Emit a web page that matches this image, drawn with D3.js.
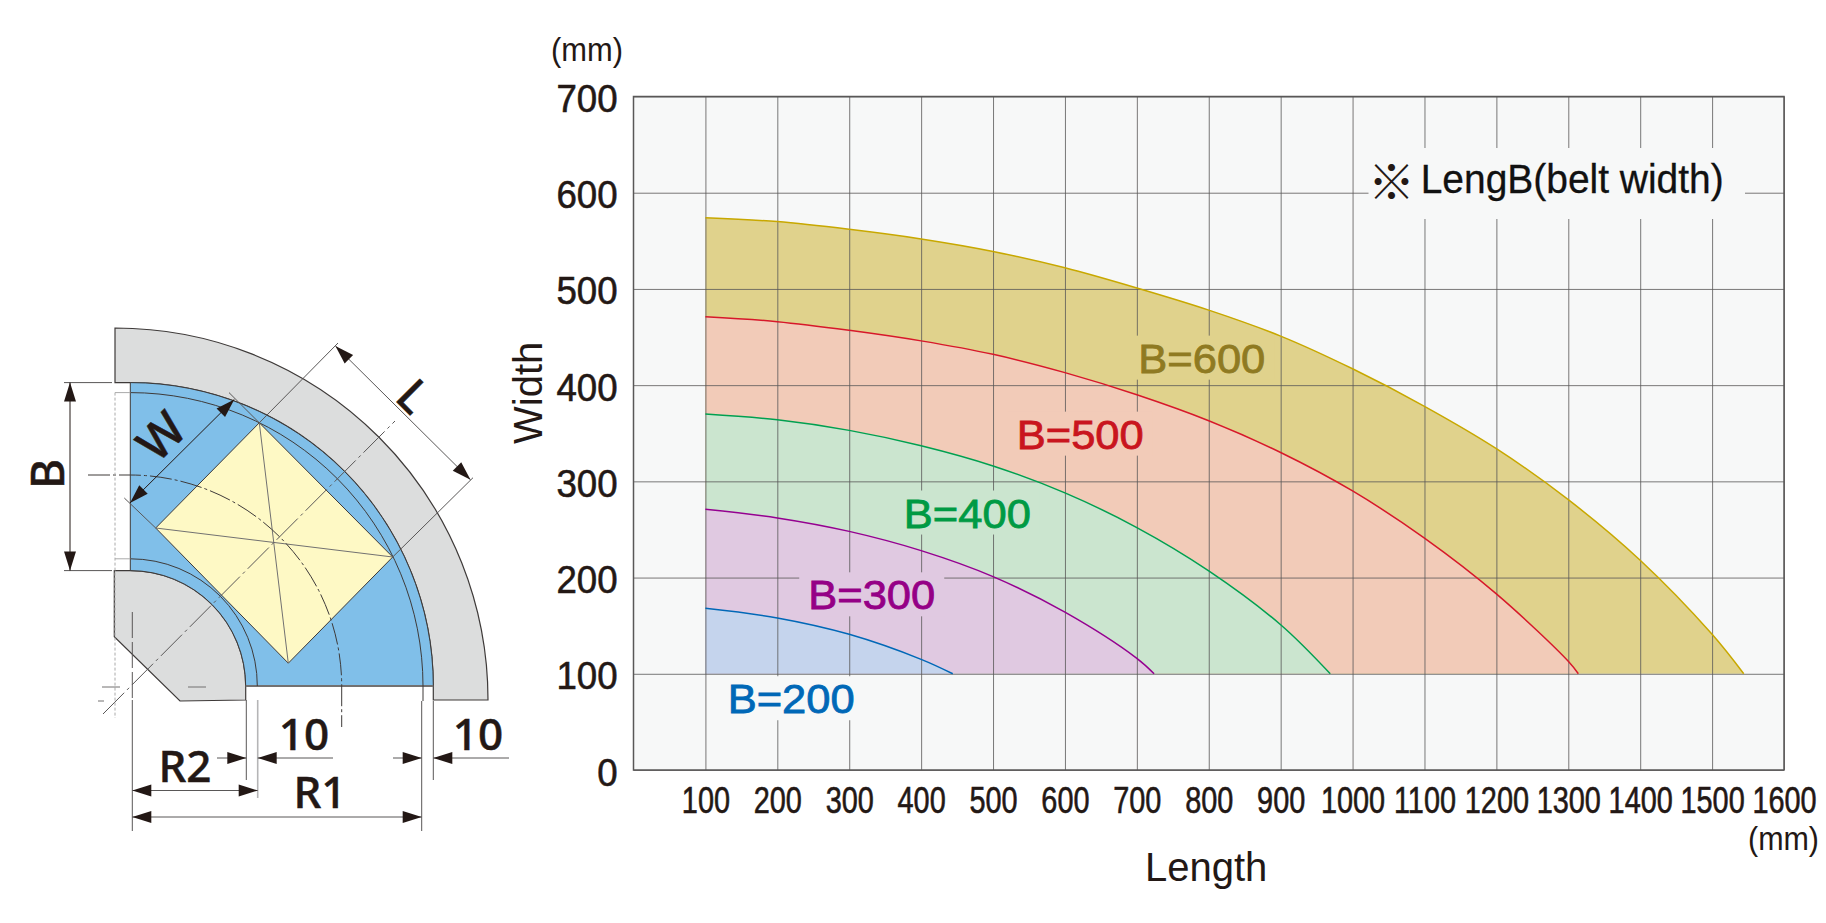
<!DOCTYPE html>
<html>
<head>
<meta charset="utf-8">
<title>Length and width by belt width</title>
<script src="https://cdn.jsdelivr.net/npm/d3@7"></script>
<style>
body{margin:0;background:#fff;}
text{font-family:"Liberation Sans",Arial,sans-serif;fill:#231815;}
.dia text{font-family:"Noto Sans",sans-serif;font-weight:500;}
</style>
</head>
<body>
<div id="chart"></div>
<script>
// chart values
var xTicks = [100,200,300,400,500,600,700,800,900,1000,1100,1200,1300,1400,1500,1600];
var yTicks = [0,100,200,300,400,500,600,700];

var belts = ["B=600","B=500","B=400","B=300","B=200"];
var b600Len = [100,200,300,400,500,600,700,800,900,1000,1100,1200,1300,1400,1500,1544];
var b600Wid = [574,570,562,552,539,522,501,478,451,417,378,334,281,218,141,100];
var b500Len = [100,200,300,400,500,600,700,800,900,1000,1100,1200,1300,1314];
var b500Wid = [471,466,457,446,432,413,390,363,330,290,241,183,113,100];
var b400Len = [100,200,300,400,500,600,700,800,900,969];
var b400Wid = [370,364,353,337,316,288,252,207,151,100];
var b300Len = [100,200,300,400,500,600,700,724];
var b300Wid = [271,262,248,228,201,164,116,100];
var b200Len = [100,200,300,400,444];
var b200Wid = [168,158,141,115,100];
var beltLen = [b600Len,b500Len,b400Len,b300Len,b200Len];
var beltWid = [b600Wid,b500Wid,b400Wid,b300Wid,b200Wid];

var fillColors = ["#e0d28c","#f2cbb8","#cbe5cf","#e0c9e1","#c5d4ed"];
var lineColors = ["#c8a800","#d7182a","#00a050","#950090","#0068b7"];
var textColors = ["#8f7a22","#c9151e","#009a44","#950086","#0068b7"];
var labelLen = [702,533,376,243,131];
var labelWid = [413,334,252,167,59];

var svg = d3.select("#chart").append("svg")
.attr("width", 1826)
.attr("height", 923)
.style("display", "block");

var left = 633.5, right = 1784, top_ = 96.5, bottom = 770;
var x = d3.scaleLinear().domain([0,1600]).range([left,right]);
var y = d3.scaleLinear().domain([0,700]).range([bottom,top_]);
var curve = d3.curveCatmullRom.alpha(0.5);

// plot background
svg.append("rect").attr("x",left).attr("y",top_).attr("width",right-left).attr("height",bottom-top_).attr("fill","#f7f8f8");

// filled bands, biggest first
belts.forEach(function(b,i){
var pts = d3.zip(beltLen[i],beltWid[i]);
var area = d3.area().x(function(d){return x(d[0]);}).y0(y(100)).y1(function(d){return y(d[1]);}).curve(curve);
svg.append("path").attr("d",area(pts)).attr("fill",fillColors[i]);
});

// grid on top of the fills
var gx = svg.append("g").attr("transform","translate(0,"+bottom+")")
.call(d3.axisBottom(x).tickValues(xTicks).tickSize(top_-bottom).tickFormat(""));
var gy = svg.append("g").attr("transform","translate("+left+",0)")
.call(d3.axisLeft(y).tickValues(yTicks).tickSize(left-right).tickFormat(""));
gx.select(".domain").remove();
gy.select(".domain").remove();
svg.selectAll("g.tick line").attr("stroke","#595757").attr("stroke-opacity",0.8).attr("stroke-width",1);

// curves
belts.forEach(function(b,i){
var pts = d3.zip(beltLen[i],beltWid[i]);
var line = d3.line().x(function(d){return x(d[0]);}).y(function(d){return y(d[1]);}).curve(curve);
svg.append("path").attr("d",line(pts)).attr("fill","none").attr("stroke",lineColors[i]).attr("stroke-width",1.5);
});

// frame
svg.append("rect").attr("x",left).attr("y",top_).attr("width",right-left).attr("height",bottom-top_)
.attr("fill","none").attr("stroke","#595757").attr("stroke-width",1.5);

// belt labels, they cut the grid behind them
var labelBack = ["#e0d28c","#f2cbb8","#cbe5cf","#e0c9e1","#f7f8f8"];
belts.forEach(function(b,i){
svg.append("rect").attr("x",x(labelLen[i])-9).attr("y",y(labelWid[i])-37)
.attr("width",145).attr("height",44).attr("fill",labelBack[i]);
svg.append("text").attr("x",x(labelLen[i])).attr("y",y(labelWid[i]))
.attr("font-size",41).attr("textLength",127).attr("lengthAdjust","spacingAndGlyphs")
.attr("stroke",textColors[i]).attr("stroke-width",0.8)
.style("fill",textColors[i]).text(b);
});

// axis text, squeezed like the narrow digits of the picture
var gxl = svg.append("g").attr("transform","translate(0,"+bottom+")")
.call(d3.axisBottom(x).tickValues(xTicks).tickSize(0).tickFormat(d3.format("d")));
gxl.select(".domain").remove();
gxl.selectAll("text").attr("y",43).attr("dy",0).attr("font-size",37).attr("font-family",null)
.attr("stroke","#231815").attr("stroke-width",0.6)
.attr("transform","scale(0.78,1)");
var gyl = svg.append("g").attr("transform","translate("+left+",0)")
.call(d3.axisLeft(y).tickValues(yTicks).tickSize(0).tickFormat(d3.format("d")));
gyl.select(".domain").remove();
gyl.selectAll("text").attr("x",-17).attr("dy",15).attr("font-size",39).attr("font-family",null)
.attr("stroke","#231815").attr("stroke-width",0.6)
.attr("transform","scale(0.94,1)");

// note box over the grid
svg.append("rect").attr("x",1368.5).attr("y",148).attr("width",376.5).attr("height",71).attr("fill","#f7f8f8");
svg.append("text").attr("x",1368).attr("y",199).attr("font-size",47).style("font-family","'Noto Sans CJK JP'").text("※");
svg.append("text").attr("x",1420.7).attr("y",193).attr("font-size",40).attr("textLength",303).attr("lengthAdjust","spacingAndGlyphs")
.attr("stroke","#111").attr("stroke-width",0.3).style("fill","#111").text("LengB(belt width)");

// axis titles and units
svg.append("text").attr("transform","translate(542,444) rotate(-90)").attr("font-size",40).text("Width");
svg.append("text").attr("x",1145).attr("y",881).attr("font-size",40).text("Length");
svg.append("text").attr("x",551).attr("y",61).attr("font-size",33).attr("textLength",72).attr("lengthAdjust","spacingAndGlyphs").text("(mm)");
svg.append("text").attr("x",1748).attr("y",850).attr("font-size",33).attr("textLength",71).attr("lengthAdjust","spacingAndGlyphs").text("(mm)");

// bend diagram on the left
var dia = svg.append("g").attr("class","dia");
var ink = "#231815";

function seg(x1,y1,x2,y2,col,w,dash){
dia.append("line").attr("x1",x1).attr("y1",y1).attr("x2",x2).attr("y2",y2)
.attr("stroke",col||"#595757").attr("stroke-width",w||1).attr("stroke-dasharray",dash||null);
}
// arrow head with its tip on (tx,ty), pointing away from (fx,fy)
function head(tx,ty,fx,fy){
var a = Math.atan2(ty-fy,tx-fx), l = 19, h = 6;
var bx = tx-l*Math.cos(a), by = ty-l*Math.sin(a);
dia.append("path").attr("d","M"+tx+","+ty+"L"+(bx-h*Math.sin(a))+","+(by+h*Math.cos(a))+"L"+(bx+h*Math.sin(a))+","+(by-h*Math.cos(a))+"Z").attr("fill",ink);
}
function word(s,cx,cy,size,rot){
dia.append("text").attr("transform","translate("+cx+","+cy+") rotate("+(rot||0)+")")
.attr("text-anchor","middle").attr("dy","0.36em").attr("font-size",size)
.attr("stroke",ink).attr("stroke-width",0.5).text(s);
}

// gray guide walls
dia.append("path").attr("d","M115,328A373,372 0 0 1 488,700L433.3,700L433.3,686A303,303.4 0 0 0 130.3,382.6L115,382.6Z")
.attr("fill","#dcdddd").attr("stroke","#3e3a39").attr("stroke-width",1.2);
dia.append("path").attr("d","M114.3,570.6L130.3,570.6A115.4,115.4 0 0 1 245.7,686L245.7,700L180,701L114.3,636.7Z")
.attr("fill","#dcdddd").attr("stroke","#3e3a39").attr("stroke-width",1.2);
// blue belt
dia.append("path").attr("d","M130.3,382.6A303,303.4 0 0 1 433.3,686L245.7,686A115.4,115.4 0 0 0 130.3,570.6Z")
.attr("fill","#80bfe9").attr("stroke","#3e3a39").attr("stroke-width",1);
seg(245.7,686,433.3,686,"#727171",2);
// roller lines
dia.append("path").attr("d","M130.3,392.6A293,293.4 0 0 1 423,686L423,701").attr("fill","none").attr("stroke","#3e3a39");
dia.append("path").attr("d","M130.3,558.8A127,127 0 0 1 257.3,686").attr("fill","none").attr("stroke","#3e3a39");
seg(115,392.6,130.3,392.6,"#aaa");
seg(115,558.8,130.3,558.8,"#aaa");
// package
dia.append("path").attr("d","M259.3,422.8L392.7,557L288.3,663.2L155.7,528Z").attr("fill","#fef9c5").attr("stroke","#3e3a39").attr("stroke-width",1);
seg(259.3,422.8,288.3,663.2,"#727171");
seg(155.7,528,392.7,557,"#727171");
// center arc and center lines
dia.append("path").attr("d","M88,475L130.3,475A212,211 0 0 1 341.7,686L341.7,727").attr("fill","none").attr("stroke","#3e3a39").attr("stroke-dasharray","22,3,3,3");
seg(103,714,395,421,"#595757",1,"30,4,3,4");
seg(115,392.6,115,718,"#aaa",1,"3,2");
seg(102,687,120,687,"#727171");
seg(188,687,206,687,"#727171");
seg(98,701,104,701,"#727171");

// L dimension
seg(259.3,422.8,338,343);
seg(392.7,557,473,477.7);
seg(335.4,345.9,470.5,479.8);
head(335.4,345.9,470.5,479.8);
head(470.5,479.8,335.4,345.9);
word("L",414,396,46,45);
// W dimension
seg(155.7,528,124.3,498);
seg(259.3,422.8,229,392.6);
seg(130,503,234.3,399.4,ink);
head(130,503,234.3,399.4);
head(234.3,399.4,130,503);
word("W",161,436,48,-45);
// B dimension
seg(64,382.6,112,382.6);
seg(64,570.6,112,570.6);
seg(70,382.6,70,570.6,ink);
head(70,382.6,70,570.6);
head(70,570.6,70,382.6);
word("B",47,474,46,-90);

// dimensions under the bend
seg(132.3,612,132.3,700,"#595757",1,"26,4");
seg(132.3,700,132.3,831);
seg(246.3,700,246.3,780);
seg(257.7,700,257.7,798,"#b5b5b6",1.6);
seg(421.7,701,421.7,831);
seg(433.3,701,433.3,780);

seg(217,758,246.3,758);
seg(257.7,758,333,758);
head(246.3,758,217,758);
head(257.7,758,333,758);
seg(393,758,421.7,758);
seg(433.3,758,509,758);
head(421.7,758,393,758);
head(433.3,758,509,758);
seg(132.3,790.5,257.7,790.5);
head(132.3,790.5,257.7,790.5);
head(257.7,790.5,132.3,790.5);
seg(132.3,817,421.7,817);
head(132.3,817,421.7,817);
head(421.7,817,132.3,817);

word("10",304,734,44);
word("10",478,734,44);
word("R2",185,766,44);
word("R1",320,792,44);
</script>
</body>
</html>
